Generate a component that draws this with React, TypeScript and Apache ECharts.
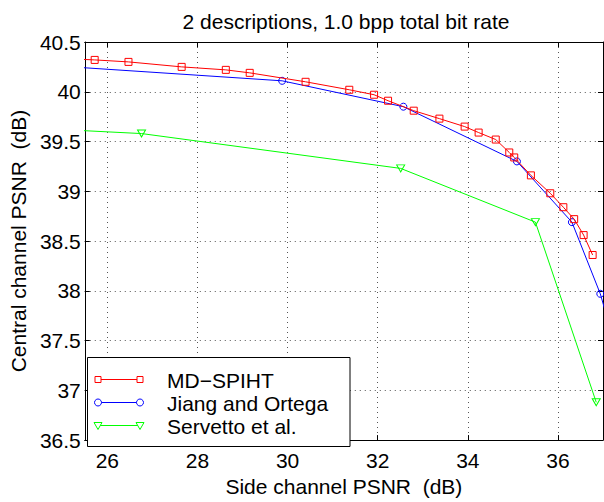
import React, { useEffect, useRef } from "react";
import * as echarts from "echarts";

const titleText = "2 descriptions, 1.0 bpp total bit rate";
const xName = "Side channel PSNR  (dB)";
const yName = "Central channel PSNR  (dB)";

const xTicks = [26, 28, 30, 32, 34, 36];

const seriesNames = ["MD−SPIHT", "Jiang and Ortega", "Servetto et al."];
const seriesColors = ["#ff0000", "#0000ff", "#00ff00"];

const mdSpihtX = [25.2, 25.72, 26.47, 27.65, 28.63, 29.16, 30.4, 31.37, 31.92, 32.23, 32.8, 33.37, 33.93, 34.24, 34.62, 34.92, 35.03, 35.4, 35.83, 36.12, 36.36, 36.57, 36.77];
const mdSpihtY = [40.33, 40.32, 40.3, 40.25, 40.22, 40.19, 40.1, 40.02, 39.97, 39.91, 39.81, 39.73, 39.65, 39.59, 39.52, 39.39, 39.34, 39.16, 38.98, 38.84, 38.72, 38.56, 38.36];

const jiangX = [25.2, 29.88, 32.57, 35.09, 36.31, 36.94, 37.3];
const jiangY = [40.25, 40.11, 39.85, 39.3, 38.69, 37.97, 37.4];

const servettoX = [25.0, 26.76, 32.51, 35.5, 36.85];
const servettoY = [39.62, 39.58, 39.23, 38.69, 36.88];

const FONT = "'Liberation Sans', Arial, Helvetica, sans-serif";

export default function App() {
  const ref = useRef<HTMLDivElement>(null);

  useEffect(() => {
    const chart = echarts.init(ref.current!, null, { renderer: "svg" });

    const pairs = (xs: number[], ys: number[]) => xs.map((x, i) => [x, ys[i]]);
    const symbols = ["rect", "circle", "triangle"];
    const sizes: any[] = [7, 7, [8, 7]];
    const datas = [pairs(mdSpihtX, mdSpihtY), pairs(jiangX, jiangY), pairs(servettoX, servettoY)];

    const series = seriesNames.map((name, i) => ({
      type: "line",
      name,
      data: datas[i],
      xAxisIndex: 0,
      yAxisIndex: 0,
      symbol: symbols[i],
      symbolSize: sizes[i],
      symbolRotate: i === 2 ? 180 : 0,
      showAllSymbol: true,
      clip: true,
      lineStyle: { color: seriesColors[i], width: 1 },
      itemStyle: { color: "rgba(255,255,255,0)", borderColor: seriesColors[i], borderWidth: 1 },
      z: 5 - i,
    }));

    // legend drawn with graphics
    const legX0 = 98, legX1 = 140, legText = 167;
    const rowsY = [379.5, 402.5, 425.5];
    const legendEls: any[] = [
      {
        type: "rect",
        shape: { x: 87.5, y: 357.5, width: 262.5, height: 89 },
        style: { fill: "#fff", stroke: "#000", lineWidth: 1 },
        z: 100,
      },
    ];
    seriesNames.forEach((name, i) => {
      const cy = rowsY[i];
      const col = seriesColors[i];
      legendEls.push({
        type: "line",
        shape: { x1: legX0, y1: cy, x2: legX1, y2: cy },
        style: { stroke: col, lineWidth: 1 },
        z: 101,
      });
      [legX0, legX1].forEach((cx) => {
        if (i === 0) {
          legendEls.push({
            type: "rect",
            shape: { x: cx - 3, y: cy - 3, width: 6, height: 6 },
            style: { fill: "#fff", stroke: col, lineWidth: 1 },
            z: 102,
          });
        } else if (i === 1) {
          legendEls.push({
            type: "circle",
            shape: { cx, cy, r: 3.5 },
            style: { fill: "#fff", stroke: col, lineWidth: 1 },
            z: 102,
          });
        } else {
          legendEls.push({
            type: "polygon",
            shape: { points: [[cx - 4, cy - 3], [cx + 4, cy - 3], [cx, cy + 4]] },
            style: { fill: "#fff", stroke: col, lineWidth: 1 },
            z: 102,
          });
        }
      });
      legendEls.push({
        type: "text",
        x: legText,
        y: cy + 1,
        style: { text: name, fontSize: 21, fontFamily: FONT, fill: "#000", verticalAlign: "middle", align: "left" },
        z: 102,
      });
    });

    const tickStyle = { show: true, inside: true, length: 5, lineStyle: { color: "#000", width: 1 } };
    const axisLine = { show: true, onZero: false, lineStyle: { color: "#000", width: 1 } };
    const gridLine = { show: true, lineStyle: { color: "#555", width: 1, type: [1, 4] } };

    const option: any = {
      animation: false,
      backgroundColor: "#fff",
      title: {
        text: titleText,
        left: 341,
        top: 6,
        textAlign: "center",
        textStyle: { fontSize: 21, fontWeight: "normal", color: "#000", fontFamily: FONT },
      },
      grid: { left: 79, right: 1, top: 42, bottom: 45, containLabel: false },
      xAxis: [
        {
          type: "value",
          min: 25.5,
          max: 37,
          position: "bottom",
          name: xName,
          nameLocation: "middle",
          nameGap: 29,
          nameTextStyle: { fontSize: 21, color: "#000", fontFamily: FONT },
          axisLine,
          axisTick: { ...tickStyle, customValues: xTicks },
          axisLabel: { customValues: xTicks, fontSize: 21, color: "#000", fontFamily: FONT, margin: 10 },
          splitLine: gridLine,
        },
        {
          type: "value",
          min: 25.5,
          max: 37,
          position: "top",
          axisLine,
          axisTick: { ...tickStyle, customValues: xTicks },
          axisLabel: { show: false, customValues: xTicks },
          splitLine: { show: false },
        },
      ],
      yAxis: [
        {
          type: "value",
          min: 36.5,
          max: 40.5,
          interval: 0.5,
          position: "left",
          name: yName,
          nameLocation: "middle",
          nameGap: 45,
          nameTextStyle: { fontSize: 21, color: "#000", fontFamily: FONT },
          axisLine,
          axisTick: tickStyle,
          axisLabel: { fontSize: 21, color: "#000", fontFamily: FONT, margin: 4 },
          splitLine: gridLine,
        },
        {
          type: "value",
          min: 36.5,
          max: 40.5,
          interval: 0.5,
          position: "right",
          axisLine,
          axisTick: tickStyle,
          axisLabel: { show: false },
          splitLine: { show: false },
        },
      ],
      series,
      graphic: legendEls,
    };

    chart.setOption(option);
    return () => chart.dispose();
  }, []);

  return (
    <div
      ref={ref}
      style={{ position: "fixed", left: 0, top: 0, width: 604, height: 502, background: "#fff" }}
    />
  );
}
